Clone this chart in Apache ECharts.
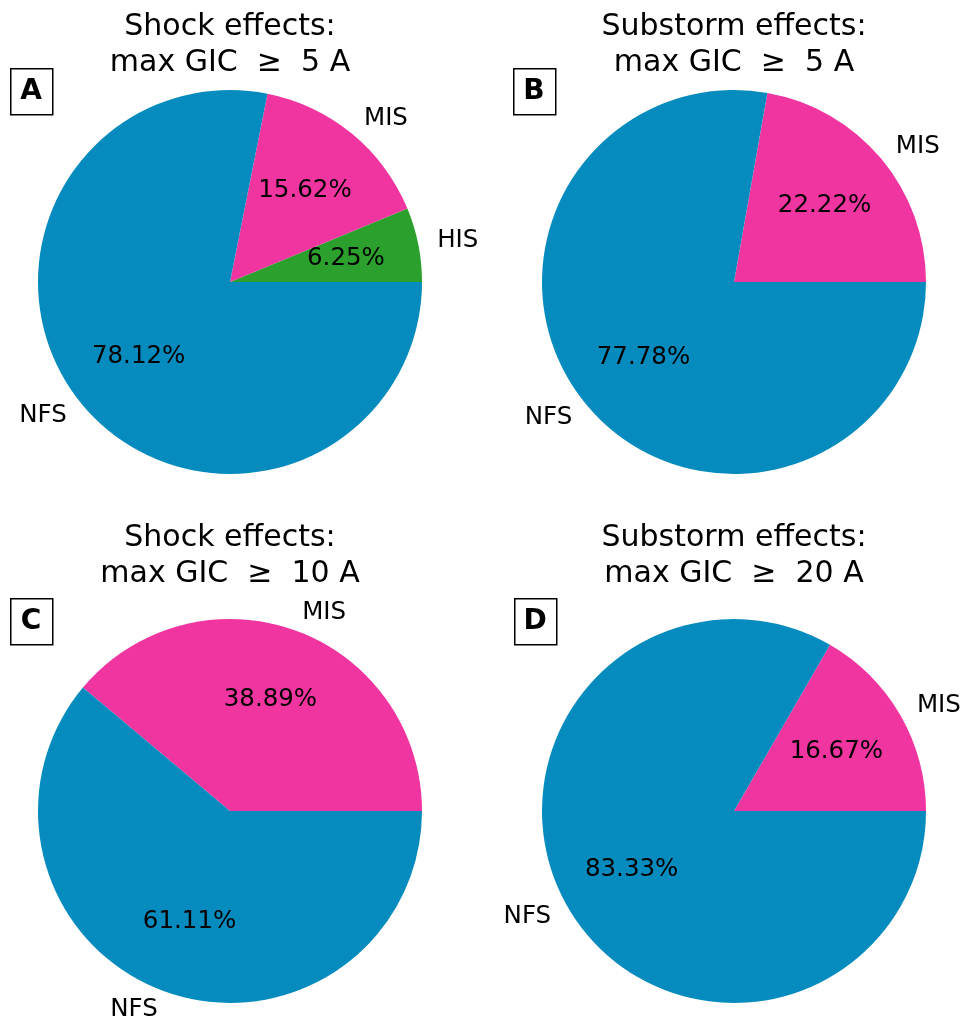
<!DOCTYPE html>
<html>
<head>
<meta charset="utf-8">
<script src="https://cdn.jsdelivr.net/npm/echarts@6/dist/echarts.min.js"></script>
<style>
  html, body { margin: 0; padding: 0; background: #fff; }
  #chart { width: 963px; height: 1021px; }
</style>
</head>
<body>
<div id="chart"></div>
<script>
// Share of events (%) per category for each panel
const shock5Names = ['HIS', 'MIS', 'NFS'];
const shock5Pct = [6.25, 15.62, 78.12];

const substorm5Names = ['MIS', 'NFS'];
const substorm5Pct = [22.22, 77.78];

const shock10Names = ['MIS', 'NFS'];
const shock10Pct = [38.89, 61.11];

const substorm20Names = ['MIS', 'NFS'];
const substorm20Pct = [16.67, 83.33];

const panelTitles = [
  'Shock effects:\nmax GIC  \u2265  5 A',
  'Substorm effects:\nmax GIC  \u2265  5 A',
  'Shock effects:\nmax GIC  \u2265  10 A',
  'Substorm effects:\nmax GIC  \u2265  20 A'
];
const panelLetters = ['A', 'B', 'C', 'D'];

const categoryColors = { NFS: '#068bbe', MIS: '#f035a0', HIS: '#2ca02c' };

const FONT = 'DejaVu Sans';
const R = 192;
const panels = [
  { names: shock5Names, pct: shock5Pct, center: [230, 282], titleTop: 9 },
  { names: substorm5Names, pct: substorm5Pct, center: [734, 282], titleTop: 9 },
  { names: shock10Names, pct: shock10Pct, center: [230, 811], titleTop: 520 },
  { names: substorm20Names, pct: substorm20Pct, center: [734, 811], titleTop: 520 }
];

const series = [];
panels.forEach(function (p) {
  const data = p.names.map(function (n, i) {
    return { name: n, value: p.pct[i], itemStyle: { color: categoryColors[n] } };
  });
  // Wedges with category names placed just outside the rim
  series.push({
    type: 'pie',
    center: p.center,
    radius: [0, R],
    startAngle: 0,
    clockwise: false,
    avoidLabelOverlap: false,
    silent: true,
    animation: false,
    data: data,
    itemStyle: { borderWidth: 0 },
    label: {
      show: true,
      position: 'outside',
      formatter: '{b}',
      fontFamily: FONT,
      fontSize: 24.5,
      color: '#000',
      distanceToLabelLine: 0
    },
    labelLine: { show: false, length: R * 0.1, length2: 0 },
    emphasis: { disabled: true }
  });
  // Transparent ring that carries the percentage labels at 0.6 R
  series.push({
    type: 'pie',
    center: p.center,
    radius: [R * 0.2, R],
    startAngle: 0,
    clockwise: false,
    avoidLabelOverlap: false,
    silent: true,
    animation: false,
    data: p.names.map(function (n, i) { return { name: n, value: p.pct[i] }; }),
    itemStyle: { color: 'rgba(0,0,0,0)', borderWidth: 0 },
    label: {
      show: true,
      position: 'inside',
      formatter: function (params) { return params.value.toFixed(2) + '%'; },
      fontFamily: FONT,
      fontSize: 24.5,
      color: '#000'
    },
    labelLine: { show: false },
    emphasis: { disabled: true }
  });
});

const titles = panels.map(function (p, i) {
  return {
    text: panelTitles[i],
    left: p.center[0],
    top: p.titleTop,
    textAlign: 'center',
    padding: 0,
    textStyle: {
      fontFamily: FONT,
      fontSize: 30,
      fontWeight: 'normal',
      lineHeight: 36,
      color: '#000'
    }
  };
});

const letterBoxes = [[10, 68], [513, 68], [10, 598], [514, 598]];
const graphics = [];
letterBoxes.forEach(function (b, i) {
  graphics.push({
    type: 'rect',
    left: b[0], top: b[1],
    shape: { width: 42, height: 46 },
    style: { fill: '#fff', stroke: '#000', lineWidth: 1.5 }
  });
  graphics.push({
    type: 'text',
    x: b[0] + 21, y: b[1] + 24,
    style: {
      text: panelLetters[i],
      fontFamily: FONT,
      fontWeight: 'bold',
      fontSize: 28,
      fill: '#000',
      align: 'center',
      verticalAlign: 'middle'
    }
  });
});

const chart = echarts.init(document.getElementById('chart'), null, { renderer: 'canvas' });
chart.setOption({
  backgroundColor: '#ffffff',
  animation: false,
  title: titles,
  series: series,
  graphic: graphics
});
</script>
</body>
</html>
